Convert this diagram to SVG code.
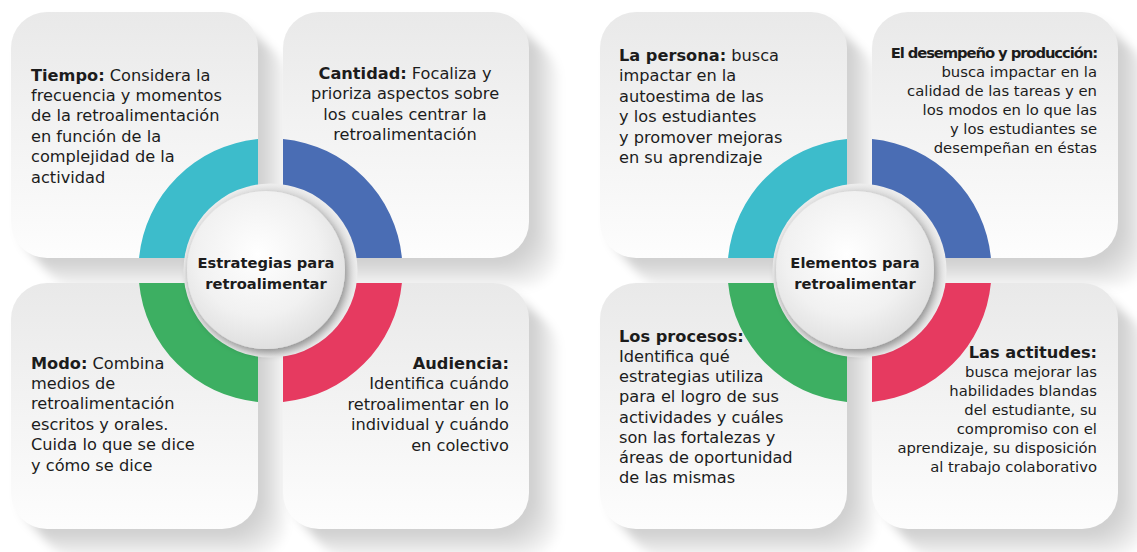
<svg xmlns="http://www.w3.org/2000/svg" width="1137" height="552" viewBox="0 0 1137 552">
<defs>
  <linearGradient id="cardGrad" x1="0" y1="0" x2="0" y2="1">
    <stop offset="0" stop-color="#e9e9e9"/>
    <stop offset="0.6" stop-color="#f5f5f5"/>
    <stop offset="1" stop-color="#fdfdfd"/>
  </linearGradient>
  <radialGradient id="circGrad" cx="0.45" cy="0.4" r="0.65">
    <stop offset="0" stop-color="#ffffff"/>
    <stop offset="0.6" stop-color="#f1f1f1"/>
    <stop offset="1" stop-color="#dcdcdc"/>
  </radialGradient>
  <radialGradient id="haloGrad" cx="0.5" cy="0.5" r="0.5">
    <stop offset="0.8" stop-color="#cfcfcf"/>
    <stop offset="1" stop-color="#eeeeee"/>
  </radialGradient>
  <filter id="blur" x="-20%" y="-20%" width="140%" height="140%">
    <feGaussianBlur stdDeviation="4"/>
  </filter>
  <filter id="circShadow" x="-30%" y="-30%" width="160%" height="160%">
    <feGaussianBlur in="SourceAlpha" stdDeviation="4"/>
    <feOffset dx="2" dy="4" result="b"/>
    <feComponentTransfer><feFuncA type="linear" slope="0.35"/></feComponentTransfer>
    <feMerge><feMergeNode/><feMergeNode in="SourceGraphic"/></feMerge>
  </filter>
</defs>
<style>
  .card { fill: url(#cardGrad); }
  .sh rect { fill: #000; fill-opacity: 0.035; }
  .t { font-family: "DejaVu Sans", "Open Sans", sans-serif; font-size: 16.2px; fill: #1c1c1c; }
  .s { font-size: 14.8px; }
  .b { font-weight: 700; }
  .m { text-anchor: middle; }
  .e { text-anchor: end; }
  .c { font-family: "DejaVu Sans", "Open Sans", sans-serif; font-size: 14.7px; font-weight: 700; fill: #1c1c1c; text-anchor: middle; }
  .cyan { fill: #3dbccb; }
  .blue { fill: #4a6db4; }
  .green { fill: #3daf62; }
  .red { fill: #e63a60; }
  .halo { fill: url(#haloGrad); }
  .circ { fill: url(#circGrad); }
</style>

<!-- ===== Left diagram ===== -->
<g id="card-tiempo">
  <g class="sh" filter="url(#blur)">
    <rect x="16" y="17" width="246" height="246" rx="36"/><rect x="21" y="22" width="246" height="246" rx="36"/>
    <rect x="26" y="27" width="246" height="246" rx="36"/><rect x="31" y="32" width="246" height="246" rx="36"/>
    <rect x="36" y="37" width="246" height="246" rx="36"/><rect x="41" y="42" width="246" height="246" rx="36"/>
  </g>
  <rect class="card" x="11" y="12" width="247" height="246" rx="36"/>
  <path class="cyan" d="M258,139.09 A132,132 0 0 0 139.09,258 L185.41,258 A86,86 0 0 1 258,185.41 Z"/>
  <text class="t" x="31" y="80.5"><tspan class="b">Tiempo:</tspan> Considera la</text>
  <text class="t" x="31" y="100.9">frecuencia y momentos</text>
  <text class="t" x="31" y="121.3">de la retroalimentación</text>
  <text class="t" x="31" y="141.7">en función de la</text>
  <text class="t" x="31" y="162.1">complejidad de la</text>
  <text class="t" x="31" y="182.5">actividad</text>
</g>
<g id="card-cantidad">
  <g class="sh" filter="url(#blur)">
    <rect x="288" y="17" width="246" height="246" rx="36"/><rect x="293" y="22" width="246" height="246" rx="36"/>
    <rect x="298" y="27" width="246" height="246" rx="36"/><rect x="303" y="32" width="246" height="246" rx="36"/>
    <rect x="308" y="37" width="246" height="246" rx="36"/><rect x="313" y="42" width="246" height="246" rx="36"/>
  </g>
  <rect class="card" x="283" y="12" width="246" height="246" rx="36"/>
  <path class="blue" d="M283,139.09 A132,132 0 0 1 401.91,258 L355.59,258 A86,86 0 0 0 283,185.41 Z"/>
  <text class="t m" x="405" y="79"><tspan class="b">Cantidad:</tspan> Focaliza y</text>
  <text class="t m" x="405" y="99.4">prioriza aspectos sobre</text>
  <text class="t m" x="405" y="119.8">los cuales centrar la</text>
  <text class="t m" x="405" y="140.2">retroalimentación</text>
</g>
<g id="card-modo">
  <g class="sh" filter="url(#blur)">
    <rect x="16" y="288" width="246" height="246" rx="36"/><rect x="21" y="293" width="246" height="246" rx="36"/>
    <rect x="26" y="298" width="246" height="246" rx="36"/><rect x="31" y="303" width="246" height="246" rx="36"/>
    <rect x="36" y="308" width="246" height="246" rx="36"/><rect x="41" y="313" width="246" height="246" rx="36"/>
  </g>
  <rect class="card" x="11" y="283" width="247" height="246" rx="36"/>
  <path class="green" d="M258,401.91 A132,132 0 0 1 139.09,283 L185.41,283 A86,86 0 0 0 258,355.59 Z"/>
  <text class="t" x="31" y="368.5"><tspan class="b">Modo:</tspan> Combina</text>
  <text class="t" x="31" y="388.9">medios de</text>
  <text class="t" x="31" y="409.3">retroalimentación</text>
  <text class="t" x="31" y="429.7">escritos y orales.</text>
  <text class="t" x="31" y="450.1">Cuida lo que se dice</text>
  <text class="t" x="31" y="470.5">y cómo se dice</text>
</g>
<g id="card-audiencia">
  <g class="sh" filter="url(#blur)">
    <rect x="288" y="288" width="246" height="246" rx="36"/><rect x="293" y="293" width="246" height="246" rx="36"/>
    <rect x="298" y="298" width="246" height="246" rx="36"/><rect x="303" y="303" width="246" height="246" rx="36"/>
    <rect x="308" y="308" width="246" height="246" rx="36"/><rect x="313" y="313" width="246" height="246" rx="36"/>
  </g>
  <rect class="card" x="283" y="283" width="246" height="246" rx="36"/>
  <path class="red" d="M283,401.91 A132,132 0 0 0 401.91,283 L355.59,283 A86,86 0 0 1 283,355.59 Z"/>
  <text class="t e b" x="509" y="369">Audiencia:</text>
  <text class="t e" x="509" y="389.4">Identifica cuándo</text>
  <text class="t e" x="509" y="409.8">retroalimentar en lo</text>
  <text class="t e" x="509" y="430.2">individual y cuándo</text>
  <text class="t e" x="509" y="450.6">en colectivo</text>
</g>
<g id="center-estrategias">
  <circle class="halo" cx="270.5" cy="270.5" r="87"/>
  <circle class="circ" cx="266" cy="270" r="79" filter="url(#circShadow)"/>
  <text class="c" x="266" y="267.5">Estrategias para</text>
  <text class="c" x="266" y="288.5">retroalimentar</text>
</g>

<!-- ===== Right diagram ===== -->
<g id="card-persona">
  <g class="sh" filter="url(#blur)">
    <rect x="605" y="17" width="246" height="246" rx="36"/><rect x="610" y="22" width="246" height="246" rx="36"/>
    <rect x="615" y="27" width="246" height="246" rx="36"/><rect x="620" y="32" width="246" height="246" rx="36"/>
    <rect x="625" y="37" width="246" height="246" rx="36"/><rect x="630" y="42" width="246" height="246" rx="36"/>
  </g>
  <rect class="card" x="600" y="12" width="247" height="246" rx="36"/>
  <path class="cyan" d="M847,139.09 A132,132 0 0 0 728.09,258 L774.41,258 A86,86 0 0 1 847,185.41 Z"/>
  <text class="t" x="619" y="61"><tspan class="b">La persona:</tspan> busca</text>
  <text class="t" x="619" y="81.4">impactar en la</text>
  <text class="t" x="619" y="101.8">autoestima de las</text>
  <text class="t" x="619" y="122.2">y los estudiantes</text>
  <text class="t" x="619" y="142.6">y promover mejoras</text>
  <text class="t" x="619" y="163">en su aprendizaje</text>
</g>
<g id="card-desempeno">
  <g class="sh" filter="url(#blur)">
    <rect x="877" y="17" width="246" height="246" rx="36"/><rect x="882" y="22" width="246" height="246" rx="36"/>
    <rect x="887" y="27" width="246" height="246" rx="36"/><rect x="892" y="32" width="246" height="246" rx="36"/>
    <rect x="897" y="37" width="246" height="246" rx="36"/><rect x="902" y="42" width="246" height="246" rx="36"/>
  </g>
  <rect class="card" x="872" y="12" width="246" height="246" rx="36"/>
  <path class="blue" d="M872,139.09 A132,132 0 0 1 990.91,258 L944.59,258 A86,86 0 0 0 872,185.41 Z"/>
  <text class="t s e b" x="1097" y="57.5" style="letter-spacing:-1.1px">El desempeño y producción:</text>
  <text class="t s e" x="1097" y="76.5">busca impactar en la</text>
  <text class="t s e" x="1097" y="95.5">calidad de las tareas y en</text>
  <text class="t s e" x="1097" y="114.5">los modos en lo que las</text>
  <text class="t s e" x="1097" y="133.5">y los estudiantes se</text>
  <text class="t s e" x="1097" y="152.5">desempeñan en éstas</text>
</g>
<g id="card-procesos">
  <g class="sh" filter="url(#blur)">
    <rect x="605" y="288" width="246" height="246" rx="36"/><rect x="610" y="293" width="246" height="246" rx="36"/>
    <rect x="615" y="298" width="246" height="246" rx="36"/><rect x="620" y="303" width="246" height="246" rx="36"/>
    <rect x="625" y="308" width="246" height="246" rx="36"/><rect x="630" y="313" width="246" height="246" rx="36"/>
  </g>
  <rect class="card" x="600" y="283" width="247" height="246" rx="36"/>
  <path class="green" d="M847,401.91 A132,132 0 0 1 728.09,283 L774.41,283 A86,86 0 0 0 847,355.59 Z"/>
  <text class="t b" x="619" y="341.7">Los procesos:</text>
  <text class="t" x="619" y="361.9">Identifica qué</text>
  <text class="t" x="619" y="382.1">estrategias utiliza</text>
  <text class="t" x="619" y="402.3">para el logro de sus</text>
  <text class="t" x="619" y="422.5">actividades y cuáles</text>
  <text class="t" x="619" y="442.7">son las fortalezas y</text>
  <text class="t" x="619" y="462.9">áreas de oportunidad</text>
  <text class="t" x="619" y="483.1">de las mismas</text>
</g>
<g id="card-actitudes">
  <g class="sh" filter="url(#blur)">
    <rect x="877" y="288" width="246" height="246" rx="36"/><rect x="882" y="293" width="246" height="246" rx="36"/>
    <rect x="887" y="298" width="246" height="246" rx="36"/><rect x="892" y="303" width="246" height="246" rx="36"/>
    <rect x="897" y="308" width="246" height="246" rx="36"/><rect x="902" y="313" width="246" height="246" rx="36"/>
  </g>
  <rect class="card" x="872" y="283" width="246" height="246" rx="36"/>
  <path class="red" d="M872,401.91 A132,132 0 0 0 990.91,283 L944.59,283 A86,86 0 0 1 872,355.59 Z"/>
  <text class="t e b" x="1097" y="358">Las actitudes:</text>
  <text class="t s e" x="1097" y="377">busca mejorar las</text>
  <text class="t s e" x="1097" y="396">habilidades blandas</text>
  <text class="t s e" x="1097" y="415">del estudiante, su</text>
  <text class="t s e" x="1097" y="434">compromiso con el</text>
  <text class="t s e" x="1097" y="453">aprendizaje, su disposición</text>
  <text class="t s e" x="1097" y="472">al trabajo colaborativo</text>
</g>
<g id="center-elementos">
  <circle class="halo" cx="859.5" cy="270.5" r="87"/>
  <circle class="circ" cx="855" cy="270" r="79" filter="url(#circShadow)"/>
  <text class="c" x="855" y="267.5">Elementos para</text>
  <text class="c" x="855" y="288.5">retroalimentar</text>
</g>
<g id="connectors"/>
</svg>
